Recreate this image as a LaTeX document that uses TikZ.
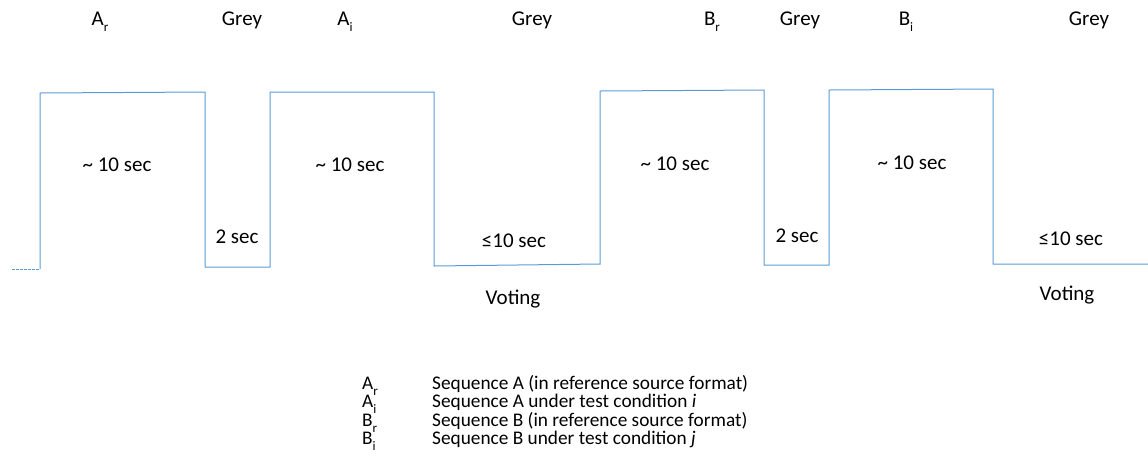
\documentclass[tikz,border=0pt]{standalone}
\usepackage{fontspec}
\setmainfont{Carlito}
\definecolor{waveblue}{RGB}{91,155,213}
% letter with a lowered index, as in A_r
\newcommand{\seqname}[2]{#1\raisebox{-0.32em}{\fontsize{13}{13}\selectfont #2}}
\begin{document}
\begin{tikzpicture}[x=1pt,y=-1pt,
  wave/.style={draw=waveblue, line width=1pt},
  lead/.style={draw=waveblue, line width=1pt, dash pattern=on 2.5pt off 1.5pt},
  lbl/.style={font=\fontsize{21}{25}\selectfont, inner sep=0pt, anchor=base},
  key/.style={font=\fontsize{19.3}{23}\selectfont, inner sep=0pt, anchor=base west}]
\useasboundingbox (0,0) rectangle (1148,475);

% corner points of the timing waveform
\coordinate (s0) at (12,269);
\coordinate (l1) at (40,269);
\coordinate (h1) at (40,93);
\coordinate (h2) at (205,92);
\coordinate (l2) at (205,267);
\coordinate (l3) at (270,267);
\coordinate (h3) at (270,92);
\coordinate (h4) at (434,92);
\coordinate (l4) at (434,266);
\coordinate (l5) at (600,264);
\coordinate (h5) at (600,91);
\coordinate (h6) at (764,90);
\coordinate (l6) at (764,265);
\coordinate (l7) at (829,265);
\coordinate (h7) at (829,90);
\coordinate (h8) at (993,89);
\coordinate (l8) at (993,264);
\coordinate (e0) at (1148,264);

\draw[lead] (s0) -- (l1);
\draw[wave] (l1) -- (h1) -- (h2) -- (l2) -- (l3) -- (h3) -- (h4) -- (l4)
  -- (l5) -- (h5) -- (h6) -- (l6) -- (l7) -- (h7) -- (h8) -- (l8) -- (e0);

% phase names along the top
\node[lbl] (tAr) at (100,25) {\seqname{A}{r}};
\node[lbl] (tG1) at (242,25) {Grey};
\node[lbl] (tAi) at (345,25) {\seqname{A}{i}};
\node[lbl] (tG2) at (532,25) {Grey};
\node[lbl] (tBr) at (712,25) {\seqname{B}{r}};
\node[lbl] (tG3) at (800,25) {Grey};
\node[lbl] (tBi) at (906,25) {\seqname{B}{i}};
\node[lbl] (tG4) at (1089,25) {Grey};

% durations
\node[lbl] (d1) at (117,171) {\textasciitilde{} 10 sec};
\node[lbl] (d2) at (237,243) {2 sec};
\node[lbl] (d3) at (350,171) {\textasciitilde{} 10 sec};
\node[lbl] (d4) at (514,247) {≤10 sec};
\node[lbl] (v1) at (513,304) {Voting};
\node[lbl] (d5) at (675,170) {\textasciitilde{} 10 sec};
\node[lbl] (d6) at (797,242) {2 sec};
\node[lbl] (d7) at (912,169) {\textasciitilde{} 10 sec};
\node[lbl] (d8) at (1071,245) {≤10 sec};
\node[lbl] (v2) at (1067,300) {Voting};

% key
\node[key] (kAr) at (362,389) {\seqname{A}{r}};
\node[key] (kAi) at (362,407.5) {\seqname{A}{i}};
\node[key] (kBr) at (362,426) {\seqname{B}{r}};
\node[key] (kBi) at (362,444.5) {\seqname{B}{i}};
\node[key] (xAr) at (432,389) {Sequence A (in reference source format)};
\node[key] (xAi) at (432,407.5) {Sequence A under test condition \textit{i}};
\node[key] (xBr) at (432,426) {Sequence B (in reference source format)};
\node[key] (xBi) at (432,444.5) {Sequence B under test condition \textit{j}};
\end{tikzpicture}
\end{document}
